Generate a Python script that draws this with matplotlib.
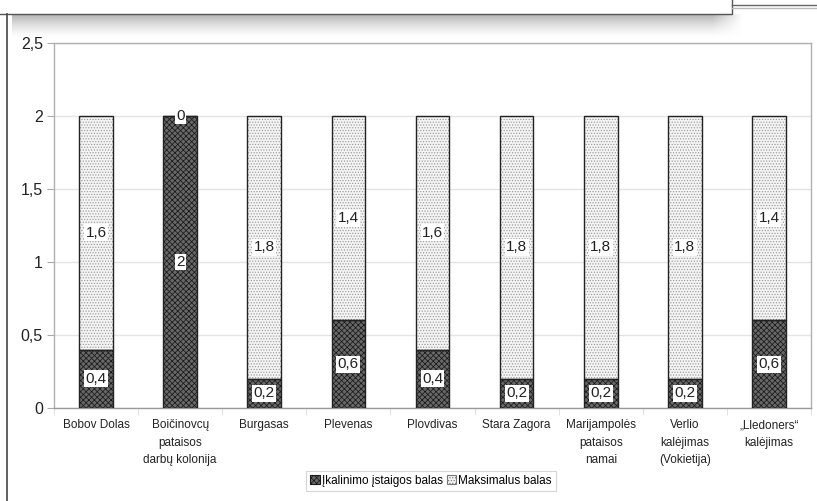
import matplotlib
matplotlib.use("Agg")
import matplotlib.pyplot as plt
import numpy as np
from matplotlib.patches import Rectangle, Patch

plt.rcParams['font.family'] = ['Liberation Sans', 'DejaVu Sans']

categories = ["Bobov Dolas", "Boičinovcų\npataisos\ndarbų kolonija", "Burgasas",
              "Plevenas", "Plovdivas", "Stara Zagora", "Marijampolės\npataisos\nnamai",
              "Verlio\nkalėjimas\n(Vokietija)", "„Lledoners“\nkalėjimas"]
inst_score = [0.4, 2.0, 0.2, 0.6, 0.4, 0.2, 0.2, 0.2, 0.6]
max_rest = [1.6, 0.0, 1.8, 1.4, 1.6, 1.8, 1.8, 1.8, 1.4]
yticks = [0, 0.5, 1, 1.5, 2, 2.5]
legend_labels = ["Įkalinimo įstaigos balas", "Maksimalus balas"]

W, H = 817, 501
fig = plt.figure(figsize=(W / 100, H / 100), dpi=100)

# background decorations (figure pixel coordinates)
bg = fig.add_axes([0, 0, 1, 1], zorder=0)
bg.axis('off')
bg.set_xlim(0, W)
bg.set_ylim(H, 0)
# soft shadow under the cropped text box
nrow = 24
for k in range(nrow):
    a = 0.30 * (1 - k / nrow) ** 1.5
    y0 = 14 + k
    bg.add_patch(Rectangle((12, y0), 700, 1.05, facecolor='black', alpha=a, lw=0, zorder=1))
    for j in range(30):
        bg.add_patch(Rectangle((712 + j, y0), 1.05, 1.05, facecolor='black',
                               alpha=a * (1 - j / 30), lw=0, zorder=1))
bg.add_patch(Rectangle((-2, -5), 734, 19, facecolor='white', edgecolor='#555555', lw=1.0, zorder=2))
bg.plot([7, 7], [14, H], color='#444444', lw=1.2, zorder=3)
bg.plot([732, W], [5, 5], color='#666666', lw=1.0, zorder=2)
bg.plot([732, W], [7.5, 7.5], color='#bbbbbb', lw=1.0, zorder=2)

left, right, top, bottom = 54, 811, 43, 408
ax = fig.add_axes([left / W, 1 - bottom / H, (right - left) / W, (bottom - top) / H], zorder=2)
ax.set_facecolor('white')

x = np.arange(len(categories))
bw = 0.4
plt.rcParams['hatch.linewidth'] = 0.55

ax.bar(x, inst_score, bw, color='#686868', edgecolor='#1a1a1a', hatch='xxxxxx', lw=0, zorder=3)
ax.bar(x, max_rest, bw, bottom=inst_score, color='#f4f4f4', edgecolor='#9a9a9a', hatch='......', lw=0, zorder=3)
ax.bar(x, inst_score, bw, fill=False, edgecolor='#222222', lw=1.0, zorder=4)
ax.bar(x, max_rest, bw, bottom=inst_score, fill=False, edgecolor='#222222', lw=1.0, zorder=4)

def fmt(v):
    s = f"{v:.1f}".rstrip('0').rstrip('.')
    return s.replace('.', ',')

box = dict(facecolor='white', edgecolor='none', pad=1.0)
for i in range(len(categories)):
    ax.text(x[i], inst_score[i] / 2, fmt(inst_score[i]), ha='center', va='center',
            fontsize=11, color='#222222', bbox=box, zorder=5)
    ax.text(x[i], inst_score[i] + max_rest[i] / 2, fmt(max_rest[i]), ha='center', va='center',
            fontsize=11, color='#222222', bbox=box, zorder=5)

ax.set_xlim(-0.5, len(categories) - 0.5)
ax.set_ylim(0, 2.5)
ax.set_yticks(yticks)
ax.set_yticklabels([fmt(v) for v in yticks], fontsize=11.5, color='#222222')
ax.yaxis.grid(True, color='#e4e4e4', lw=1.0, zorder=0)
ax.set_axisbelow(True)

ax.set_xticks(x)
ax.set_xticklabels(categories, fontsize=8.5, color='#222222', linespacing=1.6)
ax.tick_params(axis='x', length=0, pad=8)
ax.set_xticks(np.arange(-0.5, len(categories)), minor=True)
ax.tick_params(axis='x', which='minor', length=5, color='#dddddd')
ax.tick_params(axis='y', length=5, color='#aaaaaa', pad=3)

for s in ['left', 'top', 'right']:
    ax.spines[s].set_color('#b0b0b0')
ax.spines['bottom'].set_color('#999999')
for s in ax.spines.values():
    s.set_linewidth(1.0)

handles = [Patch(facecolor='#686868', edgecolor='#1a1a1a', hatch='xxxxxx', lw=0.8),
           Patch(facecolor='#f4f4f4', edgecolor='#777777', hatch='......', lw=0.8)]
leg = fig.legend(handles, legend_labels, loc='center', bbox_to_anchor=(431 / W, 1 - 481 / H),
                 ncol=2, fontsize=8.5, frameon=True, fancybox=False, handlelength=0.8,
                 handleheight=0.8, handletextpad=0.2, columnspacing=0.3, borderpad=0.35,
                 borderaxespad=0)
leg.get_frame().set_edgecolor('#cccccc')
leg.get_frame().set_linewidth(0.8)

fig.savefig('out.png', dpi=100)
